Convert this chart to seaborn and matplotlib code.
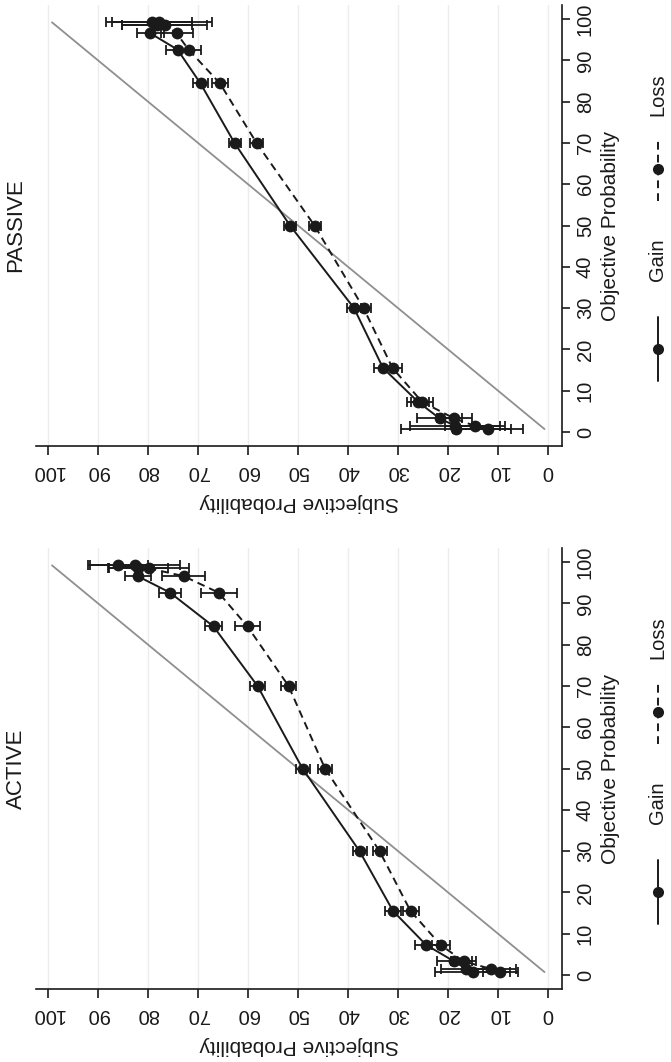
import matplotlib
matplotlib.use('Agg')
import matplotlib.pyplot as plt
import pandas as pd
import seaborn as sns

sns.set_style('white')
plt.rcParams['font.family'] = ['Liberation Sans', 'DejaVu Sans']

# objective probability levels (same for both panels / conditions)
obj_levels = [0.7, 1.5, 3.3, 7.3, 15.5, 30, 50, 70, 84.4, 92.6, 96.6, 98.5, 99.2]

# ACTIVE panel: subjective probability and half-width of the error bar
active_gain = [15.1, 16.4, 18.8, 24.4, 31.0, 37.7, 49.1, 58.1, 66.9, 75.6, 82.1, 82.0, 86.1]
active_gain_err = [7.5, 5.0, 3.5, 2.3, 1.6, 1.4, 1.4, 1.5, 1.8, 2.2, 2.6, 6.0, 6.0]
active_loss = [9.6, 11.5, 16.9, 21.5, 27.5, 33.7, 44.6, 51.9, 60.1, 65.9, 72.9, 79.9, 82.6]
active_loss_err = [3.5, 5.0, 2.5, 1.8, 1.6, 1.4, 1.4, 1.5, 2.5, 3.6, 4.2, 8.0, 9.0]

# PASSIVE panel
passive_gain = [18.4, 18.6, 21.7, 26.0, 33.0, 38.8, 51.6, 62.7, 69.5, 74.1, 79.6, 78.3, 79.3]
passive_gain_err = [11.0, 9.0, 4.5, 2.2, 1.8, 1.4, 1.2, 1.2, 1.5, 2.3, 2.7, 7.0, 8.0]
passive_loss = [12.1, 14.7, 18.8, 25.2, 31.1, 36.9, 46.7, 58.3, 65.6, 71.9, 74.3, 76.7, 77.8]
passive_loss_err = [7.0, 6.0, 3.5, 2.2, 1.8, 1.4, 1.2, 1.3, 1.6, 2.5, 3.2, 8.5, 10.6]

ticks = list(range(0, 101, 10))

W, H = 671, 1062
INK = '#1a1a1a'
FS = 14.5

fig = plt.figure(figsize=(W / 100, H / 100), dpi=100)


def add_axes_px(left, top, right, bottom):
    return fig.add_axes([left / W, 1 - bottom / H, (right - left) / W, (bottom - top) / H])


def draw_panel(ax, title, gain, gain_err, loss, loss_err):
    n = len(obj_levels)
    df = pd.DataFrame({
        'obj': obj_levels * 2,
        'subj': gain + loss,
        'cond': ['Gain'] * n + ['Loss'] * n,
    })

    ax.grid(True, axis='x', color='#ececec', lw=1.0)
    ax.grid(False, axis='y')

    # 45 degree reference line
    ax.plot([obj_levels[0], obj_levels[-1]], [obj_levels[0], obj_levels[-1]],
            color='#8f8f8f', lw=1.3, zorder=1)

    ax.errorbar(gain, obj_levels, xerr=gain_err, fmt='none', ecolor=INK,
                elinewidth=1.3, capsize=3.8, capthick=1.3, zorder=2)
    ax.errorbar(loss, obj_levels, xerr=loss_err, fmt='none', ecolor=INK,
                elinewidth=1.3, capsize=3.8, capthick=1.3, zorder=2)

    sns.lineplot(data=df, x='subj', y='obj', style='cond',
                 dashes={'Gain': '', 'Loss': (4.0, 2.6)},
                 markers={'Gain': 'o', 'Loss': 'o'},
                 color=INK, lw=1.4, markersize=8.5, markeredgewidth=0,
                 orient='y', sort=False, estimator=None, legend=False,
                 ax=ax, zorder=3)

    ax.set_xlim(102.4, -2.8)
    ax.set_ylim(-3.4, 103.4)
    ax.set_xticks(ticks)
    ax.set_yticks(ticks)
    ax.yaxis.tick_right()
    ax.yaxis.set_label_position('right')
    for side in ['top', 'left']:
        ax.spines[side].set_visible(False)
    for side in ['bottom', 'right']:
        ax.spines[side].set_color(INK)
        ax.spines[side].set_linewidth(1.2)

    ax.tick_params(axis='x', bottom=True, length=6.5, width=1.2, color=INK,
                   labelsize=FS, labelrotation=180, pad=5, labelcolor=INK)
    ax.tick_params(axis='y', right=True, left=False, length=6, width=1.2, color=INK,
                   labelsize=FS, labelrotation=90, pad=4, labelcolor=INK)
    for lab in ax.get_yticklabels():
        lab.set_va('center')

    ax.set_xlabel('Subjective Probability', fontsize=FS + 0.5, rotation=180, color=INK)
    ax.xaxis.set_label_coords(0.5, -57 / 441)
    ax.xaxis.label.set_va('center')
    ax.set_ylabel('Objective Probability', fontsize=FS + 0.5, rotation=90, color=INK)
    ax.yaxis.set_label_coords(574 / 526, 0.5)
    ax.yaxis.label.set_va('center')
    ax.yaxis.label.set_ha('center')

    # panel title sits left of the plot (page is turned)
    ax.text(-20 / 526, 0.5, title, transform=ax.transAxes, rotation=90,
            ha='center', va='center', fontsize=FS + 1.5, color=INK)

    # legend below the plot, turned with the page
    lx = 622 / 526
    keys = [('Gain', '-', 97, 186), ('Loss', (0, (4.0, 2.6)), 277, 351)]
    for name, ls, mk, tx in keys:
        ax.plot([lx, lx], [(mk - 32) / 441, (mk + 32) / 441], transform=ax.transAxes,
                color=INK, lw=1.4, ls=ls, clip_on=False)
        ax.plot([lx], [mk / 441], 'o', transform=ax.transAxes, color=INK,
                markersize=8, markeredgewidth=0, clip_on=False)
        ax.text(lx, tx / 441, name, transform=ax.transAxes, rotation=90,
                ha='center', va='center', fontsize=FS, color=INK)


ax_passive = add_axes_px(36, 5, 562, 446)
ax_active = add_axes_px(36, 548, 562, 989)

draw_panel(ax_passive, 'PASSIVE', passive_gain, passive_gain_err, passive_loss, passive_loss_err)
draw_panel(ax_active, 'ACTIVE', active_gain, active_gain_err, active_loss, active_loss_err)

fig.savefig('out.png', dpi=100)
plt.close(fig)
